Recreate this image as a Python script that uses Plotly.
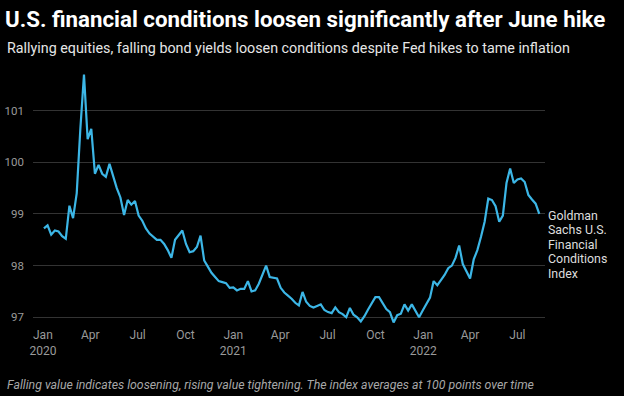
import pandas as pd
import plotly.graph_objects as go

start_date = "2020-01-03"
fci_values = [
    98.72, 98.78, 98.60, 98.68, 98.66, 98.57, 98.52, 99.16, 98.92, 99.40,
    100.65, 101.70, 100.45, 100.65, 99.78, 99.95, 99.78, 99.72, 99.97, 99.72,
    99.50, 99.32, 98.98, 99.27, 99.18, 99.25, 98.97, 98.87, 98.72, 98.62,
    98.55, 98.50, 98.50, 98.42, 98.30, 98.15, 98.50, 98.60, 98.68, 98.42,
    98.26, 98.28, 98.36, 98.58, 98.10, 97.98, 97.86, 97.78, 97.70, 97.68,
    97.66, 97.57, 97.58, 97.52, 97.55, 97.55, 97.70, 97.50, 97.52, 97.65,
    97.83, 98.00, 97.78, 97.76, 97.75, 97.57, 97.48, 97.42, 97.36, 97.28,
    97.23, 97.49, 97.30, 97.22, 97.19, 97.22, 97.25, 97.14, 97.10, 97.08,
    97.19, 97.10, 97.06, 97.00, 97.18, 97.05, 97.00, 96.92, 97.02, 97.15,
    97.26, 97.39, 97.39, 97.27, 97.16, 97.10, 96.90, 97.04, 97.07, 97.25,
    97.13, 97.25, 97.13, 97.00, 97.13, 97.25, 97.38, 97.70, 97.62, 97.72,
    97.82, 97.95, 98.00, 98.15, 98.39, 98.03, 97.88, 97.75, 98.12, 98.30,
    98.56, 98.85, 99.30, 99.27, 99.15, 98.85, 98.97, 99.60, 99.88, 99.60,
    99.67, 99.69, 99.62, 99.37, 99.28, 99.20, 99.00,
]
fci_dates = pd.date_range(start_date, periods=len(fci_values), freq="7D")

tick_dates = ["2020-01-01", "2020-04-01", "2020-07-01", "2020-10-01",
              "2021-01-01", "2021-04-01", "2021-07-01", "2021-10-01",
              "2022-01-01", "2022-04-01", "2022-07-01"]
tick_labels = ["Jan<br>2020", "Apr", "Jul", "Oct",
               "Jan<br>2021", "Apr", "Jul", "Oct",
               "Jan<br>2022", "Apr", "Jul"]
y_ticks = [97, 98, 99, 100, 101]

title_text = "U.S. financial conditions loosen significantly after June hike"
subtitle_text = "Rallying equities, falling bond yields loosen conditions despite Fed hikes to tame inflation"
footer_text = "Falling value indicates loosening, rising value tightening. The index averages at 100 points over time"
series_label_lines = ["Goldman", "Sachs U.S.", "Financial", "Conditions", "Index"]

fig = go.Figure()
fig.add_trace(go.Scatter(
    x=fci_dates, y=fci_values, mode="lines",
    line=dict(color="#3cb6e6", width=2.2),
    hoverinfo="x+y", showlegend=False,
))

W, H = 624, 396
L, R, T, B = 33, 79, 72, 71
pw, ph = W - L - R, H - T - B

def px(x):
    return (x - L) / pw

def py(y):
    return (H - B - y) / ph

annotations = [
    dict(text=subtitle_text, xref="paper", yref="paper",
         x=px(5), y=py(48), xanchor="left", yanchor="middle", showarrow=False,
         font=dict(size=14.3, color="#e6e6e6")),
    dict(text="<i>" + footer_text + "</i>", xref="paper", yref="paper",
         x=px(5), y=py(385), xanchor="left", yanchor="middle", showarrow=False,
         font=dict(size=12.3, color="#a8a8a8")),
]
for i, line in enumerate(series_label_lines):
    annotations.append(dict(
        text=line, xref="paper", yref="paper",
        x=px(546), y=py(215 + 14.5 * i), xanchor="left", yanchor="middle",
        showarrow=False, align="left", font=dict(size=12.4, color="#dddddd")))

fig.update_layout(
    width=W, height=H,
    margin=dict(l=L, r=R, t=T, b=B, autoexpand=False),
    paper_bgcolor="#000000", plot_bgcolor="#000000",
    font=dict(family="Roboto, sans-serif", color="#9a9a9a", size=12),
    title=dict(text="<b>" + title_text + "</b>", xref="container", yref="container",
               x=5 / W, xanchor="left", y=1 - 19 / H, yanchor="middle",
               font=dict(family="Roboto, sans-serif", size=22.3, color="#ffffff")),
    xaxis=dict(type="date", range=["2019-12-13", "2022-08-23"],
               tickvals=tick_dates, ticktext=tick_labels, automargin=False,
               showgrid=False, zeroline=False, showline=False, ticks="",
               ticklabelstandoff=1,
               tickfont=dict(size=12, color="#9a9a9a")),
    yaxis=dict(range=[96.85, 101.75], tickvals=y_ticks, automargin=False,
               showgrid=True, gridcolor="#333333", gridwidth=1,
               zeroline=False, showline=False, ticks="",
               ticklabelstandoff=8,
               tickfont=dict(size=11.5, color="#9a9a9a")),
    annotations=annotations,
)

fig.write_html("out.html", config={"displayModeBar": False})

with open("out.html", "r", encoding="utf-8") as f:
    html = f.read()
html = html.replace("<head>", "<head><style>html,body{margin:0;padding:0;overflow:hidden;background:#000}</style>", 1)
with open("out.html", "w", encoding="utf-8") as f:
    f.write(html)
